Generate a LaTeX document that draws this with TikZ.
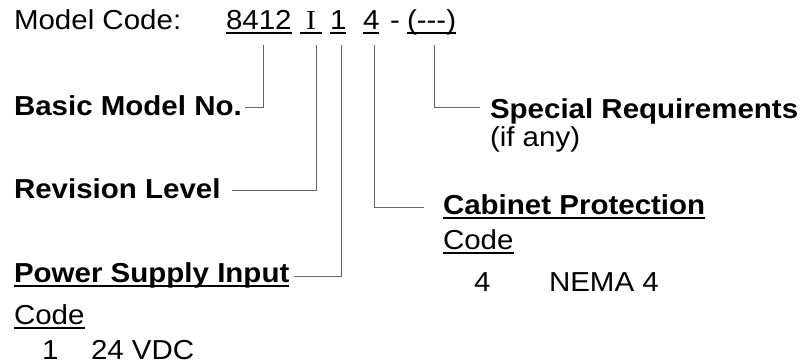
\documentclass[tikz,border=0pt]{standalone}
\usepackage{fontspec}
\usepackage{graphicx}
\setmainfont{Liberation Sans}
\newfontfamily\serifI{Liberation Serif}
\newcommand\sq[1]{\scalebox{1}[0.93]{#1}}
\newcommand\ulr[2][1.6pt]{\setbox0\hbox{#2}\rlap{\rule[-5pt]{\wd0}{#1}}\box0}
\tikzset{
  lbl/.style={anchor=base west, inner sep=0pt, outer sep=0pt, font=\fontsize{29.5}{34}\selectfont},
  bl/.style={lbl, font=\fontsize{29.5}{34}\selectfont\bfseries},
  conn/.style={draw=black!60, line width=1pt}
}
\begin{document}
\begin{tikzpicture}[x=1pt,y=-1pt]
\useasboundingbox (0,0) rectangle (807,364);
% top row
\node[lbl] (mc) at (14,29) {\sq{Model Code:}};
\node[lbl] (c1) at (226,29) {\sq{\ulr{8412}}};
\node[lbl] (c2) at (300,29) {\sq{\ulr{\makebox[22pt]{\serifI I}}}};
\node[lbl] (c3) at (330,29) {\sq{\ulr{1}}};
\node[lbl] (c4) at (363,29) {\sq{\ulr{4}}};
\node[lbl] (dash) at (390,29) {\sq{-}};
\node[lbl] (c5) at (407,29) {\sq{\ulr{({-}{-}{-})}}};
% line tops
\coordinate (t1) at (263,45);
\coordinate (t2) at (316,45);
\coordinate (t3) at (341,45);
\coordinate (t4) at (374,45);
\coordinate (t5) at (434,45);
% labels
\node[bl] (basic) at (14,115) {\sq{Basic Model No.}};
\node[bl] (rev) at (14,198) {\sq{Revision Level}};
\node[bl] (psi) at (14,282) {\sq{\ulr[2pt]{Power Supply Input}}};
\node[lbl] (code1) at (14,324) {\sq{\ulr{Code}}};
\node[lbl] (one) at (42,359) {\sq{1}};
\node[lbl] (vdc) at (91,359) {\sq{24 VDC}};
\node[bl] (spec) at (490,118) {\sq{Special Requirements}};
\node[lbl] (ifany) at (490,146) {\sq{(if any)}};
\node[bl] (cab) at (443,214) {\sq{\ulr[2pt]{Cabinet Protection}}};
\node[lbl] (code2) at (443,249) {\sq{\ulr{Code}}};
\node[lbl] (four) at (474,291) {\sq{4}};
\node[lbl] (nema) at (549,291) {\sq{NEMA 4}};
% connectors
\draw[conn] (t1) |- ([xshift=3pt,yshift=8pt]basic.base east);
\draw[conn] (t2) |- ([xshift=11pt,yshift=8pt]rev.base east);
\draw[conn] (t3) |- ([xshift=5pt,yshift=6pt]psi.base east);
\draw[conn] (t4) |- ([xshift=-19pt,yshift=7pt]cab.base west);
\draw[conn] (t5) |- ([xshift=-10pt,yshift=11pt]spec.base west);
\end{tikzpicture}
\end{document}
